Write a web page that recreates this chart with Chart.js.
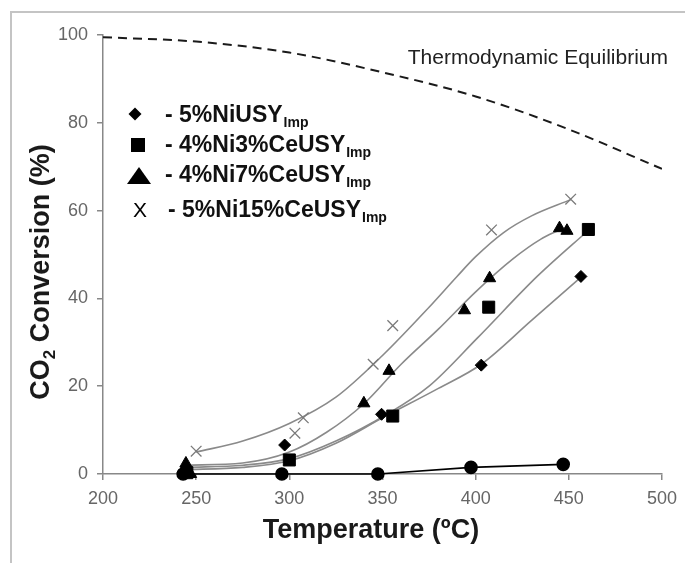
<!DOCTYPE html>
<html>
<head>
<meta charset="utf-8">
<script src="https://cdn.jsdelivr.net/npm/chart.js@4.4.1/dist/chart.umd.min.js"></script>
<style>
  html, body { margin: 0; padding: 0; background: #fff; }
  canvas { display: block; }
</style>
</head>
<body>
<canvas id="co2Chart" width="685" height="563"></canvas>
<script>
'use strict';

// thermodynamic equilibrium (dashed)
var eqTemp = [200, 250, 300, 350, 400, 450, 500];
var eqConv = [99.5, 98.5, 96, 91.5, 86, 78.5, 69.5];

// measured points
var niUsyTemp = [243, 297.5, 349.5, 403, 456.5];
var niUsyConv = [0.3, 6.6, 13.6, 24.8, 45];

var ni3CeTemp = [245, 300, 355.5, 407, 460.5];
var ni3CeConv = [0.3, 3.2, 13.2, 38, 55.7];

var ni7CeTemp = [244.5, 247, 340, 353.5, 394, 407.5, 445, 449];
var ni7CeConv = [2.4, 0, 16.1, 23.5, 37.3, 44.6, 56, 55.4];

var ni15CeTemp = [250, 303, 307.5, 345, 355.5, 408.5, 451];
var ni15CeConv = [5.2, 9.3, 12.8, 25, 33.8, 55.6, 62.6];

var usyTemp = [243, 296, 347.5, 397.5, 447];
var usyConv = [0, 0, 0, 1.5, 2.2];

// fitted trend curves (grey)
var fitNiUsyTemp = [243, 275, 300, 325, 350, 380, 403, 430, 457];
var fitNiUsyConv = [1, 1.5, 3, 7, 12.8, 19.5, 25, 35, 45];

var fitNi3CeTemp = [245, 275, 300, 325, 352, 375, 401, 433, 461];
var fitNi3CeConv = [1.5, 2, 3.5, 7.5, 13.5, 20, 31, 45, 55.7];

var fitNi7CeTemp = [244, 275, 300, 320, 340, 360, 380, 400, 420, 435, 445];
var fitNi7CeConv = [2, 2.5, 5, 9.5, 16, 25, 33, 41.5, 49, 53.5, 55.6];

var fitNi15CeTemp = [250, 275, 300, 325, 350, 375, 390, 400, 415, 430, 451];
var fitNi15CeConv = [5, 7.5, 11.5, 17.5, 27, 38, 45, 49.5, 55, 58.8, 62.5];

function pts(xs, ys) {
  return xs.map(function (x, i) { return { x: x, y: ys[i] }; });
}

var FONT = "'Liberation Sans', Arial, sans-serif";

function curve(xs, ys) {
  return {
    data: pts(xs, ys), showLine: true, pointRadius: 0,
    borderColor: '#8a8a8a', borderWidth: 1.6,
    cubicInterpolationMode: 'monotone', order: 2
  };
}

function markers(xs, ys, style, r, color) {
  return {
    data: pts(xs, ys), showLine: false, pointStyle: style,
    pointRadius: r, backgroundColor: color, borderColor: color,
    borderWidth: 1, order: 0, clip: false
  };
}

var xMarks = markers(ni15CeTemp, ni15CeConv, 'crossRot', 7.5, '#7a7a7a');
xMarks.borderWidth = 1.3;

var usyLine = markers(usyTemp, usyConv, 'circle', 6, '#000');
usyLine.showLine = true;
usyLine.borderWidth = 1.6;

var decor = {
  id: 'decor',
  beforeDraw: function (chart) {
    var ctx = chart.ctx;
    ctx.save();
    ctx.fillStyle = '#fff';
    ctx.fillRect(0, 0, chart.width, chart.height);
    ctx.strokeStyle = '#c4c4c4';
    ctx.lineWidth = 2;
    ctx.beginPath();
    ctx.moveTo(11, 563);
    ctx.lineTo(11, 12);
    ctx.lineTo(685, 12);
    ctx.stroke();
    ctx.restore();
  },
  afterDraw: function (chart) {
    var ctx = chart.ctx;
    ctx.save();
    ctx.fillStyle = '#1a1a1a';

    // axis titles
    ctx.font = 'bold 27px ' + FONT;
    ctx.textAlign = 'center';
    ctx.textBaseline = 'middle';
    ctx.fillText('Temperature (ºC)', 371, 531);

    ctx.save();
    ctx.translate(40, 272);
    ctx.rotate(-Math.PI / 2);
    ctx.textAlign = 'left';
    ctx.textBaseline = 'alphabetic';
    ctx.font = 'bold 27px ' + FONT;
    var a = 'CO', c = ' Conversion (%)';
    var wa = ctx.measureText(a).width, wc = ctx.measureText(c).width;
    ctx.font = 'bold 17px ' + FONT;
    var wb = ctx.measureText('2').width;
    var x0 = -(wa + wb + wc) / 2;
    ctx.font = 'bold 27px ' + FONT;
    ctx.fillText(a, x0, 9);
    ctx.font = 'bold 17px ' + FONT;
    ctx.fillText('2', x0 + wa, 15);
    ctx.font = 'bold 27px ' + FONT;
    ctx.fillText(c, x0 + wa + wb, 9);
    ctx.restore();

    // equilibrium label
    ctx.font = '21px ' + FONT;
    ctx.textAlign = 'right';
    ctx.textBaseline = 'alphabetic';
    ctx.fillStyle = '#222';
    ctx.fillText('Thermodynamic Equilibrium', 668, 64);

    // legend
    var rows = [
      { label: '- 5%NiUSY', base: 122 },
      { label: '- 4%Ni3%CeUSY', base: 152 },
      { label: '- 4%Ni7%CeUSY', base: 182 },
      { label: '- 5%Ni15%CeUSY', base: 217 }
    ];
    ctx.fillStyle = '#111';
    ctx.textAlign = 'left';
    rows.forEach(function (r, i) {
      var tx = i === 3 ? 168 : 165;
      ctx.font = 'bold 23px ' + FONT;
      ctx.fillText(r.label, tx, r.base);
      var w = ctx.measureText(r.label).width;
      ctx.font = 'bold 14px ' + FONT;
      ctx.fillText('Imp', tx + w + 1, r.base + 5);
    });

    ctx.fillStyle = '#000';
    // diamond
    ctx.beginPath();
    ctx.moveTo(135, 107.5); ctx.lineTo(141.5, 114); ctx.lineTo(135, 120.5); ctx.lineTo(128.5, 114);
    ctx.closePath(); ctx.fill();
    // square
    ctx.fillRect(131, 138, 14, 14);
    // triangle
    ctx.beginPath();
    ctx.moveTo(139, 167); ctx.lineTo(151, 184); ctx.lineTo(127, 184);
    ctx.closePath(); ctx.fill();
    // X
    ctx.font = '21px ' + FONT;
    ctx.textAlign = 'center';
    ctx.fillText('X', 140, 217);

    ctx.restore();
  }
};

var ctx = document.getElementById('co2Chart').getContext('2d');
new Chart(ctx, {
  type: 'scatter',
  data: {
    datasets: [
      markers(niUsyTemp, niUsyConv, 'rectRot', 6, '#000'),
      markers(ni3CeTemp, ni3CeConv, 'rect', 8.5, '#000'),
      markers(ni7CeTemp, ni7CeConv, 'triangle', 7, '#000'),
      xMarks,
      usyLine,
      curve(fitNiUsyTemp, fitNiUsyConv),
      curve(fitNi3CeTemp, fitNi3CeConv),
      curve(fitNi7CeTemp, fitNi7CeConv),
      curve(fitNi15CeTemp, fitNi15CeConv),
      {
        data: pts(eqTemp, eqConv), showLine: true, pointRadius: 0,
        borderColor: '#1a1a1a', borderWidth: 2, borderDash: [9, 6],
        cubicInterpolationMode: 'monotone', order: 3
      }
    ]
  },
  options: {
    responsive: false,
    devicePixelRatio: 1,
    animation: false,
    layout: { padding: { left: 0, right: 20, top: 35, bottom: 0 } },
    plugins: { legend: { display: false }, tooltip: { enabled: false } },
    scales: {
      x: {
        type: 'linear', min: 200, max: 500,
        afterFit: function (s) { s.height = 89; },
        ticks: { stepSize: 50, color: '#666', padding: 8, font: { family: FONT, size: 18 } },
        grid: { drawOnChartArea: false, drawTicks: true, tickLength: 6, color: '#888', lineWidth: 1.5 },
        border: { display: true, color: '#888', width: 1.5 }
      },
      y: {
        min: 0, max: 100,
        afterFit: function (s) { s.width = 103; },
        ticks: { stepSize: 20, color: '#666', padding: 9, font: { family: FONT, size: 18 } },
        grid: { drawOnChartArea: false, drawTicks: true, tickLength: 6, color: '#888', lineWidth: 1.5 },
        border: { display: true, color: '#888', width: 1.5 }
      }
    }
  },
  plugins: [decor]
});
</script>
</body>
</html>
